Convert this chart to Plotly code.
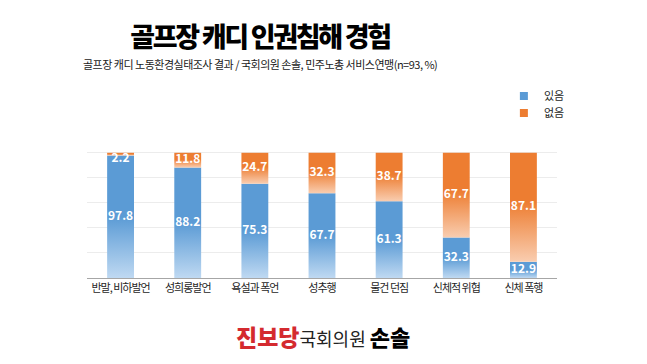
import plotly.graph_objects as go

# ---- data ----
categories = ['반말, 비하발언', '성희롱발언', '욕설과 폭언', '성추행', '물건 던짐', '신체적 위협', '신체 폭행']
yes_vals = [97.8, 88.2, 75.3, 67.7, 61.3, 32.3, 12.9]
no_vals = [2.2, 11.8, 24.7, 32.3, 38.7, 67.7, 87.1]
series_names = ['있음', '없음']

title_text = '골프장 캐디 인권침해 경험'
subtitle_text = '골프장 캐디 노동환경실태조사 결과 / 국회의원 손솔, 민주노총 서비스연맹(n=93, %)'

FONT = 'Noto Sans CJK KR'
BLUE = '#5B9BD5'
ORANGE = '#ED7D31'
BLUE_SCALE = [[0, '#BFD9F2'], [0.5, BLUE], [1, BLUE]]
ORANGE_SCALE = [[0, '#F9CDB0'], [0.55, ORANGE], [1, ORANGE]]
HALF = 0.2          # half bar width in category units
LABEL_HALF = 4.6    # half label height in value units (keeps labels inside the bar)

fig = go.Figure()

for i, (yv, nv) in enumerate(zip(yes_vals, no_vals)):
    for base, val, scale in ((0, yv, BLUE_SCALE), (yv, nv, ORANGE_SCALE)):
        fig.add_trace(go.Scatter(
            x=[i - HALF, i + HALF, i + HALF, i - HALF, i - HALF],
            y=[base, base, base + val, base + val, base],
            mode='lines', fill='toself',
            line=dict(width=0, color='rgba(0,0,0,0)'),
            fillgradient=dict(type='vertical', colorscale=scale),
            hoverinfo='skip', showlegend=False,
        ))

# data labels
idx = list(range(len(categories)))
yes_pos = [v / 2 for v in yes_vals]
no_pos = [min(y + n / 2, y + n - LABEL_HALF) for y, n in zip(yes_vals, no_vals)]
fig.add_trace(go.Scatter(
    x=idx + idx,
    y=yes_pos + no_pos,
    text=[f'{v:.1f}' for v in yes_vals] + [f'{v:.1f}' for v in no_vals],
    mode='text', cliponaxis=False,
    textfont=dict(family=FONT, size=12, color='white', weight='bold'),
    hoverinfo='skip', showlegend=False,
))

# legend entries (one legend per series so the spacing can match)
for k, (name, color) in enumerate(zip(series_names, [BLUE, ORANGE])):
    fig.add_trace(go.Scatter(
        x=[None], y=[None], mode='markers', name=name,
        legend='legend' if k == 0 else 'legend2',
        marker=dict(symbol='square', size=8, color=color),
    ))

PLOT_TOP, PLOT_BOTTOM = 127, 278
PH = PLOT_BOTTOM - PLOT_TOP

legend_common = dict(
    x=0.887, xanchor='left', yanchor='middle',
    font=dict(family=FONT, size=11, color='#262626'),
    itemwidth=30, bgcolor='rgba(0,0,0,0)',
)

fig.update_layout(
    width=647, height=364,
    margin=dict(l=87, r=90, t=PLOT_TOP, b=364 - PLOT_BOTTOM, autoexpand=False),
    paper_bgcolor='white', plot_bgcolor='white',
    font=dict(family=FONT, color='#262626'),
    title=dict(
        text=f'<span style="letter-spacing:-2.3px">{title_text}</span>',
        font=dict(family=FONT, size=27, color='black', weight=900),
        x=260 / 647, xanchor='center', xref='container',
        y=1 - 38 / 364, yanchor='middle', yref='container',
    ),
    legend=dict(y=1 + (PLOT_TOP - 96) / PH, **legend_common),
    legend2=dict(y=1 + (PLOT_TOP - 113) / PH, **legend_common),
    xaxis=dict(
        range=[-0.5, len(categories) - 0.5],
        tickvals=idx,
        ticktext=[f'<span style="letter-spacing:-1px">{c}</span>' for c in categories],
        tickfont=dict(family=FONT, size=11, color='#262626'),
        showgrid=False, zeroline=False, showline=True,
        linecolor='#A6A6A6', linewidth=1, ticks='', fixedrange=True,
    ),
    yaxis=dict(
        range=[0, 120.6], dtick=20, showticklabels=False,
        gridcolor='#ECECEC', gridwidth=1, zeroline=False, fixedrange=True,
    ),
    annotations=[
        dict(
            text=f'<span style="letter-spacing:-0.5px">{subtitle_text}</span>',
            xref='paper', yref='paper', x=(260 - 87) / 470, y=1 + (PLOT_TOP - 64) / PH,
            xanchor='center', yanchor='middle', showarrow=False,
            font=dict(family=FONT, size=11, color='#1a1a1a'),
        ),
        dict(
            text=('<span style="color:#D42A2F;font-size:23px;font-weight:900">진보당</span>'
                  '<span style="color:#222222;font-size:18px">국회의원 </span>'
                  '<span style="color:#000000;font-size:22px;font-weight:900">손솔</span>'),
            xref='paper', yref='paper', x=(323 - 87) / 470, y=(PLOT_BOTTOM - 336) / PH,
            xanchor='center', yanchor='middle', showarrow=False,
            font=dict(family=FONT, size=18),
        ),
    ],
)

fig.write_html('out.html', config={'displayModeBar': False},
               post_script="document.body.style.margin='0';")
